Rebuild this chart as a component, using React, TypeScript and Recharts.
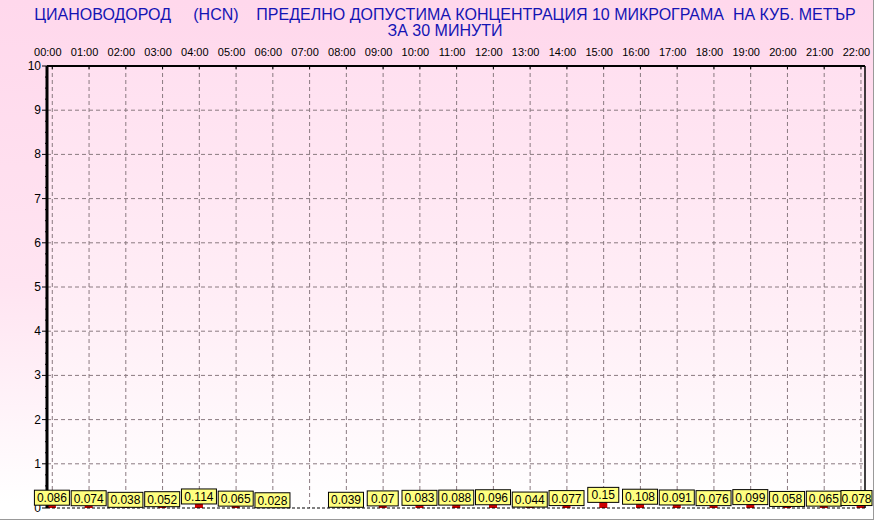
import React from "react"
import { ComposedChart, Bar, XAxis, YAxis, CartesianGrid, LabelList, ReferenceLine } from "recharts"

const HOURS = ["00:00", "01:00", "02:00", "03:00", "04:00", "05:00", "06:00", "07:00", "08:00", "09:00", "10:00", "11:00",
  "12:00", "13:00", "14:00", "15:00", "16:00", "17:00", "18:00", "19:00", "20:00", "21:00", "22:00"]

// средни стойности по часове, 07:00 няма данни
const VALUES: (number | null)[] = [0.086, 0.074, 0.038, 0.052, 0.114, 0.065, 0.028, null, 0.039, 0.07, 0.083, 0.088,
  0.096, 0.044, 0.077, 0.15, 0.108, 0.091, 0.076, 0.099, 0.058, 0.065, 0.078]

const Y_TICKS = [0, 1, 2, 3, 4, 5, 6, 7, 8, 9, 10]
const Y_MINOR = Y_TICKS.slice(0, -1).flatMap(t => [t, t + 0.25, t + 0.5, t + 0.75]).concat([10])

const FONT = '"Liberation Sans", Arial, sans-serif'
const CHART_W = 874

const data = HOURS.map((h, i) => ({ x: i, hour: h, v: VALUES[i] }))

const TopTick = (props: any) => {
  const { x, y, payload } = props
  return (
    <g>
      <line x1={x} x2={x} y1={y} y2={y + 3} stroke="#000" />
      <text x={x - 4.5} y={y - 10} textAnchor="middle" fontSize={11} fontFamily={FONT} fill="#000">
        {HOURS[payload.value]}
      </text>
    </g>
  )
}

const LeftTick = (props: any) => {
  const { x, y, payload } = props
  const major = Number.isInteger(payload.value)
  return (
    <g>
      <line x1={major ? x - 5 : x - 2} x2={x} y1={y} y2={y} stroke="#000" />
      {major && (
        <text x={x - 6} y={y + 4} textAnchor="end" fontSize={12} fontFamily={FONT} fill="#000">
          {payload.value}
        </text>
      )}
    </g>
  )
}

const ValueBox = (props: any) => {
  const { x, y, width, value } = props
  if (value === null || value === undefined) return null
  const txt = String(value)
  let w = Math.max(31, txt.length * 6 + 5)
  const h = 15
  let left = x + width / 2 - w / 2
  // кутийката не излиза извън графиката
  if (left + w > CHART_W - 2) {
    w = 31
    left = CHART_W - 2 - w
  }
  const top = y - h + 1
  return (
    <g>
      <rect x={left} y={top} width={w} height={h} fill="#FFFF80" stroke="#000" strokeWidth={1} />
      <text x={left + w / 2} y={top + 12} textAnchor="middle" fontSize={12} fontFamily={FONT} fill="#000">
        {txt}
      </text>
    </g>
  )
}

export default function App() {
  return (
    <div style={{ position: "fixed", left: 0, top: 0, width: 874, height: 529, background: "#fff" }}>
      <div
        style={{
          position: "absolute", left: 0, top: 0, width: 873, height: 519,
          borderRight: "1px solid #999", borderBottom: "1px solid #999",
          background: "linear-gradient(to bottom, #FFD8EC 0%, #FFE4F1 55%, #FFFFFF 97%)",
        }}
      />
      <div
        style={{
          position: "absolute", left: 47, top: 66, width: 818, height: 442,
          background: "linear-gradient(to bottom, #FFE0F0 0%, #FFEEF6 55%, #FFFFFF 100%)",
        }}
      />
      <div
        style={{
          position: "absolute", left: 8, top: 7, width: 874, textAlign: "center", whiteSpace: "pre",
          fontFamily: FONT, fontSize: 16, lineHeight: "16px", color: "#1414B4",
        }}
      >
        {"ЦИАНОВОДОРОД     (HCN)    ПРЕДЕЛНО ДОПУСТИМА КОНЦЕНТРАЦИЯ 10 МИКРОГРАМА  НА КУБ. МЕТЪР"}
        {"\nЗА 30 МИНУТИ"}
      </div>
      <div style={{ position: "absolute", left: 0, top: 0 }}>
        <ComposedChart width={CHART_W} height={520} data={data} margin={{ top: 36, right: 0, bottom: 12, left: 0 }}>
          <CartesianGrid
            yAxisId="left"
            stroke="#8a7a80"
            strokeDasharray="4 3"
            horizontalValues={Y_TICKS.slice(1)}
            verticalValues={HOURS.map((_, i) => i)}
          />
          <XAxis
            dataKey="x"
            type="number"
            orientation="top"
            domain={[-0.144, 22.11]}
            ticks={HOURS.map((_, i) => i)}
            allowDataOverflow
            axisLine={{ stroke: "#000", strokeWidth: 2 }}
            tickLine={false}
            tickSize={0}
            tickMargin={0}
            tick={<TopTick />}
            interval={0}
            height={30}
          />
          <YAxis
            yAxisId="left"
            domain={[0, 10]}
            ticks={Y_MINOR}
            interval={0}
            width={47}
            axisLine={{ stroke: "#000", strokeWidth: 3 }}
            tickLine={false}
            tickSize={0}
            tickMargin={0}
            tick={<LeftTick />}
          />
          <YAxis
            yAxisId="right"
            orientation="right"
            domain={[0, 10]}
            width={9}
            tick={false}
            tickLine={false}
            axisLine={{ stroke: "#000", strokeWidth: 1.5 }}
          />
          <ReferenceLine yAxisId="left" y={0} stroke="#000" strokeDasharray="3 2" />
          <Bar yAxisId="left" dataKey="v" fill="#CC0000" barSize={8} isAnimationActive={false}>
            <LabelList dataKey="v" content={<ValueBox />} />
          </Bar>
        </ComposedChart>
      </div>
    </div>
  )
}
